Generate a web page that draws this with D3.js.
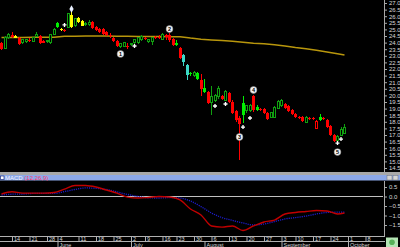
<!DOCTYPE html>
<html>
<head>
<meta charset="utf-8">
<script src="https://cdn.jsdelivr.net/npm/d3@7"></script>
<style>
  body { margin: 0; background: #000; overflow: hidden; }
  svg { display: block; }
</style>
</head>
<body>
<script>
// daily candles
var opens = [23.97,23.59,24.35,24.58,24.35,24.35,23.97,24.05,24.20,24.12,
  24.50,24.50,24.12,24.05,23.97,24.65,25.18,24.96,24.96,25.18,
  25.18,25.26,25.56,25.64,25.34,25.34,25.56,25.18,25.03,25.03,
  24.80,24.58,24.35,24.12,23.67,23.74,23.74,23.82,23.97,23.97,
  24.20,24.35,24.05,24.12,24.43,24.43,24.27,24.58,24.58,24.27,
  23.82,23.59,23.06,22.30,21.62,21.47,21.24,21.17,20.26,20.26,
  19.50,19.65,19.88,19.95,19.65,20.18,19.50,18.82,18.29,18.51,
  18.82,18.89,19.95,18.89,18.97,18.97,18.67,18.36,18.36,19.04,
  19.20,19.35,19.20,18.89,18.59,18.36,18.36,17.98,18.29,18.29,
  17.53,18.13,18.29,18.13,17.68,17.00,16.62,17.00,17.15];
var highs = [24.05,24.50,24.73,24.80,24.58,24.43,24.27,24.27,24.35,24.43,
  24.80,24.58,24.20,24.20,24.65,25.11,25.56,25.11,25.03,26.24,
  26.32,25.87,25.94,25.71,25.56,25.71,25.64,25.26,25.11,25.11,
  24.88,24.73,24.43,24.20,23.97,24.05,23.97,23.97,24.27,24.43,
  24.58,24.43,24.27,24.43,24.50,24.58,24.73,24.65,24.73,24.35,
  24.20,23.67,23.14,22.38,21.77,21.85,21.77,21.62,21.24,20.33,
  20.71,20.10,20.71,20.03,20.41,20.26,19.65,18.89,18.44,19.95,
  19.27,19.35,20.03,19.27,19.04,19.04,18.74,18.74,19.20,19.65,
  19.73,19.42,19.27,18.97,18.67,18.44,18.44,18.44,18.36,18.36,
  18.13,18.59,18.36,18.21,17.76,17.07,17.00,17.60,17.83];
var lows = [23.44,23.52,24.27,24.35,24.35,23.82,23.90,23.97,24.05,24.05,
  24.43,23.90,23.97,23.97,23.90,24.58,25.11,24.88,24.80,25.11,
  25.11,25.18,25.49,25.26,25.26,25.26,25.03,24.88,24.73,24.58,
  24.50,24.35,24.05,23.67,23.59,23.67,23.52,23.74,23.90,23.90,
  24.12,24.20,23.97,23.82,24.27,24.27,24.20,24.20,24.05,23.74,
  23.74,22.76,22.23,21.17,21.47,21.39,21.17,19.95,20.18,19.35,
  18.51,19.50,19.73,19.65,19.57,19.42,18.59,17.98,15.10,17.91,
  18.67,18.74,18.74,18.82,18.82,18.59,18.13,18.29,18.29,18.97,
  19.12,18.97,18.74,18.51,18.29,18.21,17.98,17.91,18.13,18.13,
  17.45,18.06,18.13,17.53,16.92,16.47,16.54,16.92,17.07];
var closes = [23.52,24.35,24.65,24.43,24.50,23.90,24.20,24.20,24.12,24.35,
  24.65,23.97,23.99,24.18,24.58,25.03,25.49,25.03,24.88,26.17,
  26.09,25.79,25.87,25.26,25.41,25.56,25.11,24.96,24.80,24.65,
  24.58,24.50,24.12,23.74,23.90,23.97,23.67,23.90,24.20,24.35,
  24.50,24.27,24.20,24.35,24.35,24.35,24.65,24.43,24.20,23.82,
  23.97,22.83,22.53,21.55,21.70,21.77,21.70,20.48,20.56,19.42,
  19.88,20.03,20.56,19.73,20.26,19.50,18.67,18.13,17.83,19.42,
  19.20,19.27,18.89,19.12,18.89,18.67,18.21,18.67,19.12,19.57,
  19.65,19.04,18.82,18.59,18.36,18.29,18.06,18.36,18.21,18.21,
  18.06,18.36,18.21,17.60,17.00,16.54,16.92,17.38,17.60];
// r = red, g = hollow green, G = solid green, y = yellow, c = cyan, h = hollow red
var candleTypes = ("rggryrggrg" + "grrgggGyrg" + "ygyyggrrrr" + "rrrrggrggg" + "grggrrgrrr" +
  "GrccGgGrGr" + "gggrgrrrrG" + "ggrGrrrggg" + "grrrrrrgrr" + "hGrrrrggg").split("");

// days where the moving average and MACD lines were read
var lineDays = [0,3,6,9,12,15,18,21,24,27,30,33,36,39,42,45,48,51,54,57,60,63,66,69,72,75,78,81,84,87,90,93,96,98];
var maValues = [24.39,24.39,24.39,24.40,24.40,24.40,24.48,24.49,24.50,24.50,24.50,24.49,24.48,24.47,24.47,24.46,24.45,
  24.44,24.34,24.26,24.20,24.15,24.11,24.03,23.96,23.91,23.83,23.74,23.63,23.54,23.42,23.28,23.15,23.06];
var macdValues = [0.13,0.25,0.18,0.18,0.18,0.21,0.39,0.58,0.58,0.50,0.34,0.18,-0.03,-0.08,-0.05,0.0,-0.03,
  -0.18,-0.66,-0.97,-1.55,-1.61,-1.55,-1.79,-1.55,-1.34,-1.24,-0.92,-0.84,-0.79,-0.74,-0.76,-0.92,-0.87];
var signalValues = [0.08,0.12,0.13,0.16,0.16,0.16,0.26,0.37,0.45,0.43,0.37,0.24,0.11,0.0,-0.07,-0.08,-0.06,
  -0.08,-0.24,-0.53,-0.87,-1.11,-1.26,-1.39,-1.50,-1.45,-1.32,-1.18,-1.11,-1.03,-0.92,-0.84,-0.82,-0.82];

// axis ticks
var priceTicks = [27.0,26.5,26.0,25.5,25.0,24.5,24.0,23.5,23.0,22.5,22.0,21.5,21.0,20.5,20.0,19.5,19.0,18.5,18.0,17.5,17.0,16.5,16.0,15.5,15.0,14.5];
var macdTicks = [0.5, 0.0, -0.5, -1.0, -1.5];
var weekDays = [3,8,13,16,22,27,32,37,41,46,50,55,60,65,70,75,80,84,89,94,99,104];
var weekLabels = ["14","21","28","4","11","18","25","2","9","16","23","30","6","13","20","27","3","10","17","24","1","8"];
var monthDays = [16,37,58,80,99];
var monthLabels = ["June","July","August","September","October"];

// markers on the chart
var noteDays = [34,48,68,72,96];
var notePrices = [23.14,25.03,16.85,20.41,15.71];
var noteLabels = ["1","2","3","4","5"];
var crossDays = [18,38,61,64,69,71,96,97];
var crossPrices = [25.34,23.74,19.20,19.35,17.60,18.29,16.39,16.69];
var peakDay = 20, peakPrice = 26.55;

var w = 400;
var h = 247;
var fontFam = "'Liberation Sans', Arial, sans-serif";

var svg = d3.select("body")
  .append("svg")
  .attr("width", w)
  .attr("height", h)
  .style("background", "#000");

// Scales
var x = d3.scaleLinear().domain([0, 98]).range([1.5, 344.5]);
var y = d3.scaleLinear().domain([14.5, 27]).range([168, 3]);
var yM = d3.scaleLinear().domain([-1.5, 0.5]).range([225, 187]);

var fills = { r: "#ff0000", g: "#000", G: "#00f000", y: "#ffff00", c: "#3cd8c8", h: "#000" };
var strokes = { r: "#ff0000", g: "#10a010", G: "#00f000", y: "#ffff00", c: "#3cd8c8", h: "#ff0000" };

// moving average
svg.append("path")
  .datum(lineDays)
  .attr("fill", "none")
  .attr("stroke", "#b8960c")
  .attr("stroke-width", 1.5)
  .attr("d", d3.line()
    .x(function (d) { return x(d); })
    .y(function (d, i) { return y(maValues[i]); }));

// candles
var days = d3.range(opens.length);
var cg = svg.append("g").attr("shape-rendering", "crispEdges");

cg.selectAll("line.wick")
  .data(days)
  .enter()
  .append("line")
  .attr("class", "wick")
  .attr("x1", function (d) { return x(d); })
  .attr("x2", function (d) { return x(d); })
  .attr("y1", function (d) { return y(highs[d]); })
  .attr("y2", function (d) { return y(lows[d]); })
  .attr("stroke", function (d) { return strokes[candleTypes[d]]; });

cg.selectAll("rect.body")
  .data(days)
  .enter()
  .append("rect")
  .attr("class", "body")
  .attr("x", function (d) {
    var t = candleTypes[d];
    return (t == "g" || t == "h") ? x(d) - 1 : x(d) - 1.5;
  })
  .attr("width", function (d) {
    var t = candleTypes[d];
    return (t == "g" || t == "h") ? 2 : 3;
  })
  .attr("y", function (d) { return y(Math.max(opens[d], closes[d])); })
  .attr("height", function (d) {
    return Math.max(1, Math.abs(y(opens[d]) - y(closes[d])));
  })
  .attr("fill", function (d) { return fills[candleTypes[d]]; })
  .attr("stroke", function (d) {
    var t = candleTypes[d];
    return (t == "g" || t == "h") ? strokes[t] : "none";
  })
  .attr("stroke-width", 1);

// small white crosses
svg.selectAll("path.cross")
  .data(crossDays)
  .enter()
  .append("path")
  .attr("class", "cross")
  .attr("transform", function (d, i) { return "translate(" + x(d) + "," + y(crossPrices[i]) + ")"; })
  .attr("d", d3.symbol().type(d3.symbolCross).size(9))
  .attr("fill", "#ffffff");

svg.append("path")
  .attr("transform", "translate(" + x(peakDay) + "," + y(peakPrice) + ")")
  .attr("d", d3.symbol().type(d3.symbolDiamond).size(16))
  .attr("fill", "#e8f0ff");

// numbered notes
var notes = svg.selectAll("g.note")
  .data(noteDays)
  .enter()
  .append("g")
  .attr("class", "note")
  .attr("transform", function (d, i) { return "translate(" + x(d) + "," + y(notePrices[i]) + ")"; });
notes.append("circle").attr("r", 3.4).attr("fill", "#f4f4f4").attr("stroke", "#888").attr("stroke-width", 0.5);
notes.append("text")
  .text(function (d, i) { return noteLabels[i]; })
  .attr("text-anchor", "middle")
  .attr("y", 2)
  .attr("font-family", fontFam)
  .attr("font-size", "5.5px")
  .attr("font-weight", "bold")
  .attr("fill", "#000");

// price axis
var priceAxis = d3.axisRight(y)
  .tickValues(priceTicks)
  .tickFormat(d3.format(".1f"))
  .tickSize(3)
  .tickSizeOuter(0)
  .tickPadding(2);
var pa = svg.append("g").attr("transform", "translate(384,0)").call(priceAxis);
pa.select(".domain").remove();
pa.selectAll("line").attr("stroke", "#a8a8a8");
pa.selectAll("text").attr("fill", "#d8d8d8").attr("font-size", "6px").attr("font-family", fontFam);

svg.append("line").attr("x1", 384.5).attr("x2", 384.5).attr("y1", 0).attr("y2", 172)
  .attr("stroke", "#a8a8a8");

// MACD pane header
svg.append("rect").attr("x", 0).attr("y", 172).attr("width", w).attr("height", 3).attr("fill", "#a8a8a8");
svg.append("rect").attr("x", 0).attr("y", 175).attr("width", w).attr("height", 5.5).attr("fill", "#8ca8e8");
svg.append("rect").attr("x", 0.5).attr("y", 176).attr("width", 3.5).attr("height", 3.5)
  .attr("fill", "#ffffff").attr("stroke", "#203080").attr("stroke-width", 0.7);
var title = svg.append("text")
  .attr("x", 5)
  .attr("y", 180)
  .attr("font-family", fontFam)
  .attr("font-size", "6px");
title.append("tspan").text("MACD ").attr("fill", "#f4f4ff");
title.append("tspan").text("(12,26,9)").attr("fill", "#ff3a6a");
svg.append("rect").attr("x", 387).attr("y", 175.5).attr("width", 5).attr("height", 4.5)
  .attr("fill", "#d4d4d4").attr("stroke", "#707070").attr("stroke-width", 0.5);
svg.append("rect").attr("x", 393).attr("y", 175.5).attr("width", 5).attr("height", 4.5)
  .attr("fill", "#d4d4d4").attr("stroke", "#707070").attr("stroke-width", 0.5);

// MACD pane
svg.append("line").attr("x1", 0).attr("x2", 383).attr("y1", yM(0)).attr("y2", yM(0))
  .attr("stroke", "#c0c0c0");

svg.append("path")
  .datum(lineDays)
  .attr("fill", "none")
  .attr("stroke", "#1c1cc8")
  .attr("stroke-width", 1.3)
  .attr("stroke-dasharray", "1.2,1")
  .attr("d", d3.line()
    .curve(d3.curveMonotoneX)
    .x(function (d) { return x(d); })
    .y(function (d, i) { return yM(signalValues[i]); }));

svg.append("path")
  .datum(lineDays)
  .attr("fill", "none")
  .attr("stroke", "#c00000")
  .attr("stroke-width", 1.4)
  .attr("d", d3.line()
    .curve(d3.curveMonotoneX)
    .x(function (d) { return x(d); })
    .y(function (d, i) { return yM(macdValues[i]); }));

var macdAxis = d3.axisRight(yM)
  .tickValues(macdTicks)
  .tickFormat(d3.format(".1f"))
  .tickSize(3)
  .tickSizeOuter(0)
  .tickPadding(2);
var ma = svg.append("g").attr("transform", "translate(384,0)").call(macdAxis);
ma.select(".domain").remove();
ma.selectAll("line").attr("stroke", "#a8a8a8");
ma.selectAll("text").attr("fill", "#d8d8d8").attr("font-size", "6px").attr("font-family", fontFam);
svg.append("line").attr("x1", 384.5).attr("x2", 384.5).attr("y1", 181).attr("y2", 236.5)
  .attr("stroke", "#a8a8a8");

// date axis
svg.append("line").attr("x1", 0).attr("x2", 385).attr("y1", 236.5).attr("y2", 236.5).attr("stroke", "#b0b0b0");
svg.append("line").attr("x1", 0).attr("x2", 385).attr("y1", 241.5).attr("y2", 241.5).attr("stroke", "#b0b0b0");

var weekAxis = d3.axisBottom(x)
  .tickValues(weekDays)
  .tickFormat(function (d, i) { return weekLabels[i]; })
  .tickSize(5)
  .tickSizeOuter(0);
var wa = svg.append("g").attr("transform", "translate(0,236.5)").call(weekAxis);
wa.select(".domain").remove();
wa.selectAll("line").attr("stroke", "#b0b0b0");
wa.selectAll("text")
  .attr("x", 1.5).attr("y", 4.6).attr("dy", null)
  .attr("text-anchor", "start")
  .attr("fill", "#d8d8d8").attr("font-size", "5.5px").attr("font-family", fontFam);

var monthAxis = d3.axisBottom(x)
  .tickValues(monthDays)
  .tickFormat(function (d, i) { return monthLabels[i]; })
  .tickSize(6)
  .tickSizeOuter(0);
var mo = svg.append("g").attr("transform", "translate(0,241.5)").call(monthAxis);
mo.select(".domain").remove();
mo.selectAll("line").attr("stroke", "#b0b0b0");
mo.selectAll("text")
  .attr("x", 1.5).attr("y", 5).attr("dy", null)
  .attr("text-anchor", "start")
  .attr("fill", "#d8d8d8").attr("font-size", "5.5px").attr("font-family", fontFam);

// corner badge
svg.append("rect").attr("x", 386).attr("y", 237.5).attr("width", 12).attr("height", 9.5).attr("fill", "#b4e4b4");
svg.append("circle").attr("cx", 392).attr("cy", 242.3).attr("r", 2.8).attr("fill", "#58b058");
</script>
</body>
</html>
